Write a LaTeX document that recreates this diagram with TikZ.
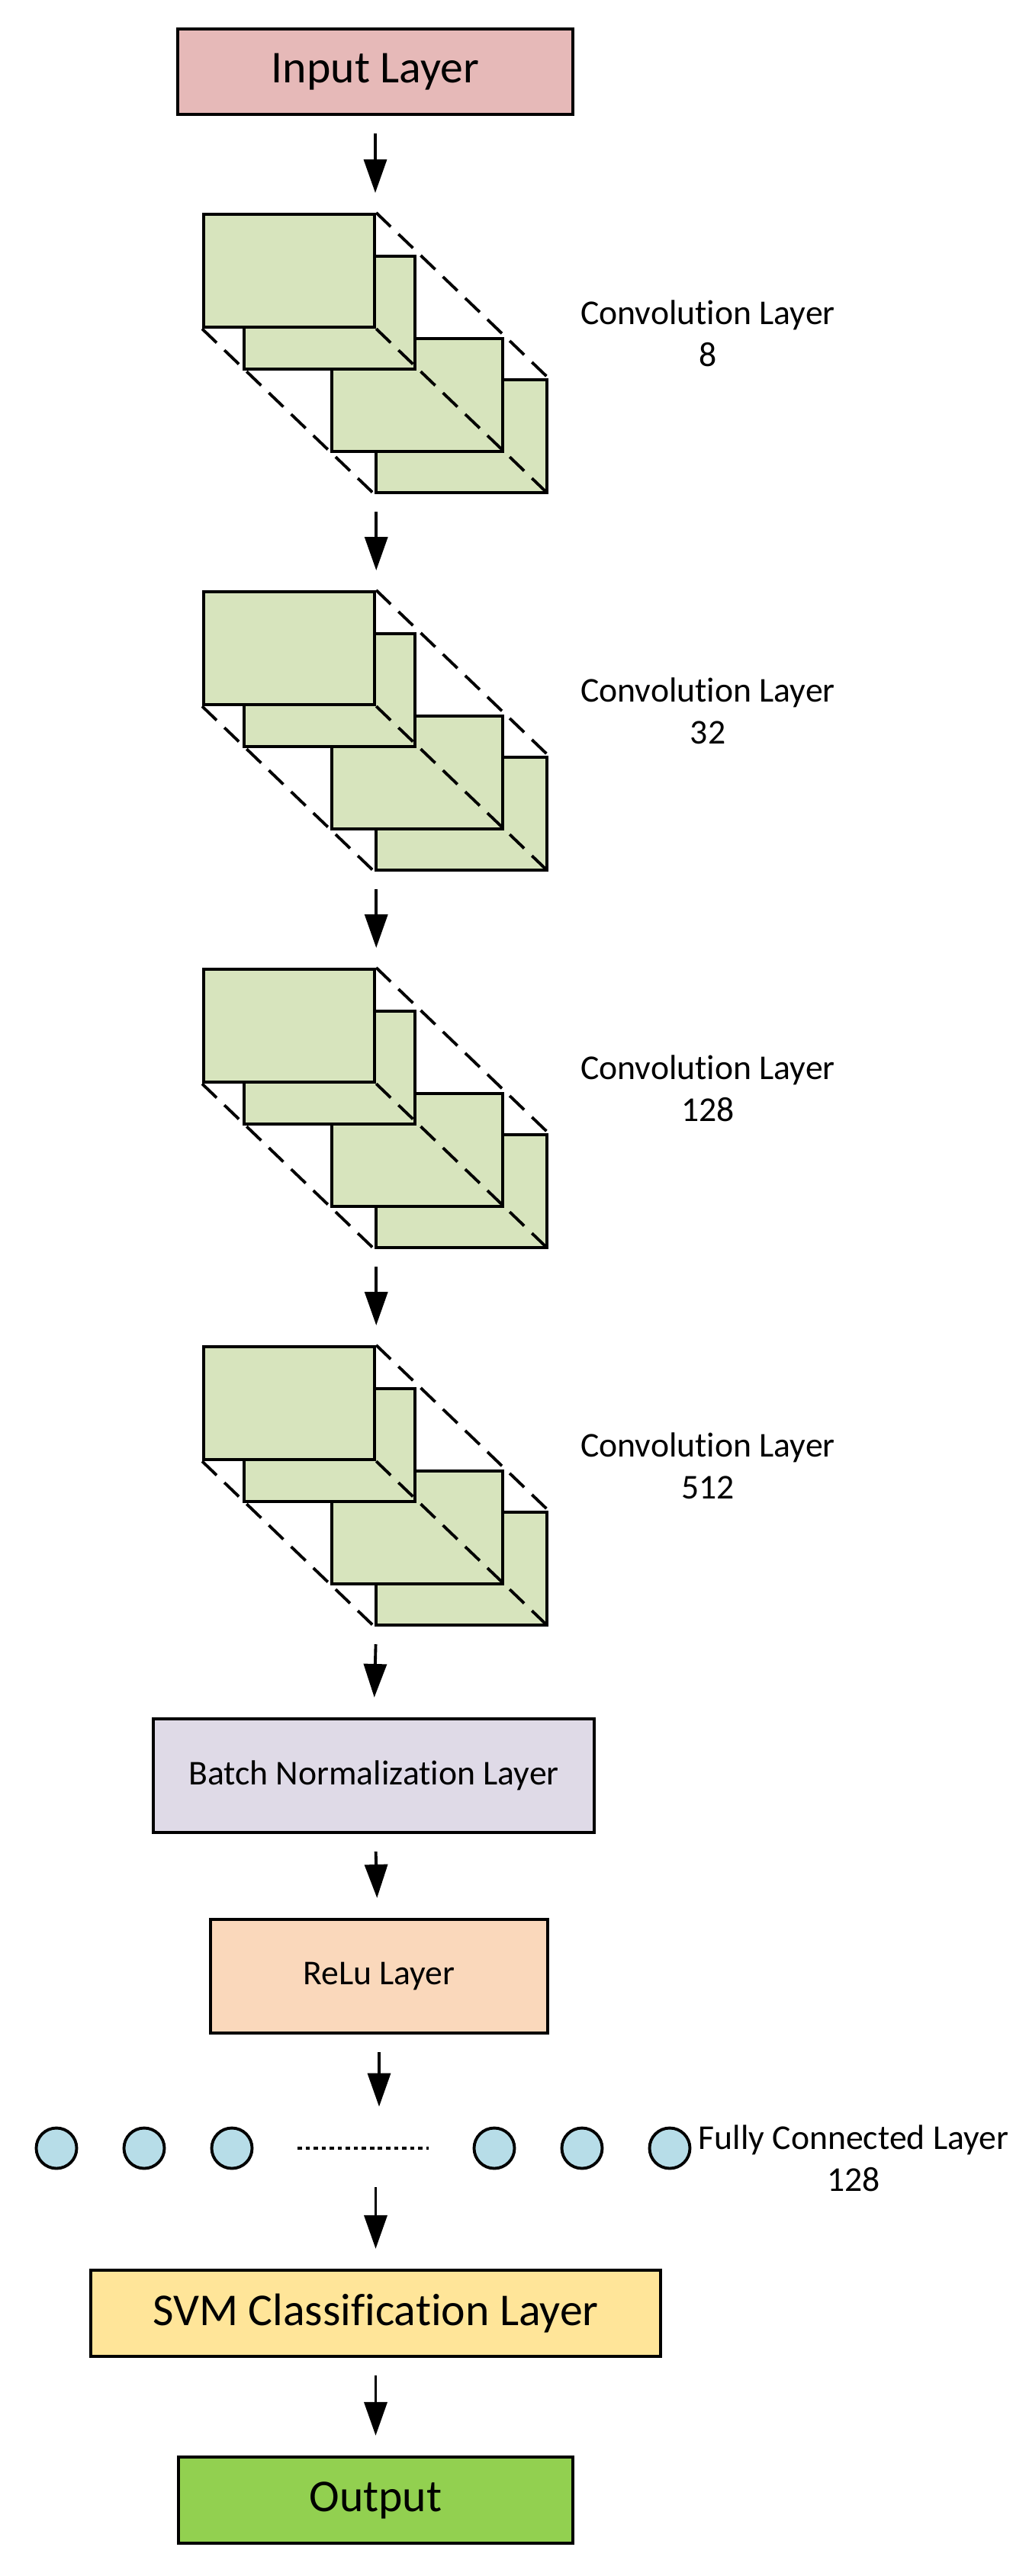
\documentclass[tikz,border=0pt]{standalone}
\usepackage{fontspec}
\setmainfont{Carlito}[Ligatures={NoCommon,NoRare,NoContextual}, Contextuals=NoAlternate]
\usetikzlibrary{arrows.meta, calc}

\definecolor{inputred}{HTML}{E6B9B8}
\definecolor{convgreen}{HTML}{D7E4BD}
\definecolor{batchlilac}{HTML}{DFDAE7}
\definecolor{reluorange}{HTML}{FAD8BB}
\definecolor{fcblue}{HTML}{B7DDE8}
\definecolor{svmyellow}{HTML}{FFE599}
\definecolor{outgreen}{HTML}{92D050}

\begin{document}
\begin{tikzpicture}[
		layerbox/.style={draw, line width=1.2pt, inner sep=0pt},
		bigtext/.style={font=\fontsize{17}{20}\selectfont},
		smalltext/.style={font=\fontsize{13}{15.6}\selectfont, align=center},
		fmap/.style={draw, line width=1.2pt, fill=convgreen, anchor=north west,
			minimum width=2.24cm, minimum height=1.48cm, inner sep=0pt},
		hidden/.style={line width=1.1pt, dash pattern=on 7.5pt off 4pt},
		neuron/.style={draw, circle, line width=1.1pt, fill=fcblue, minimum size=0.53cm, inner sep=0pt},
		flow/.style={line width=1.1pt, -{Triangle[length=12.5pt, width=8.5pt]},
			shorten <=0.23cm, shorten >=0.26cm} ]
	\useasboundingbox (0,0) rectangle (13.49,-33.78);

	\node[layerbox, bigtext, fill=inputred, minimum width=5.18cm, minimum height=1.12cm]
		(input) at (4.92,-0.94) {Input Layer};

	% four convolution blocks, back to front
	\foreach \y/\n [count=\i] in {2.79/8, 7.74/32, 12.69/128, 17.64/512} {
		\node[fmap] (conv\i-d) at (4.91,{-\y-2.17}) {};
		\node[fmap] (conv\i-c) at (4.33,{-\y-1.63}) {};
		\node[fmap] (conv\i-b) at (3.18,{-\y-0.55}) {};
		\node[fmap] (conv\i-a) at (2.65,-\y) {};
		\draw[hidden] (conv\i-a.north east) -- (conv\i-d.north east);
		\draw[hidden] (conv\i-a.south west) -- (conv\i-d.south west);
		\draw[hidden] (conv\i-a.south east) -- (conv\i-d.south east);
		\node[smalltext] (lab\i) at (9.28,{-\y-1.585}) {Convolution Layer\\ \n};
	}

	\node[layerbox, smalltext, fill=batchlilac, minimum width=5.78cm, minimum height=1.49cm]
		(batch) at (4.90,-23.285) {Batch Normalization Layer};
	\node[layerbox, smalltext, fill=reluorange, minimum width=4.42cm, minimum height=1.49cm]
		(relu) at (4.97,-25.915) {ReLu Layer};

	% fully connected layer
	\foreach \x [count=\i] in {0.74, 1.89, 3.04, 6.48, 7.63, 8.78}
		\node[neuron] (fc\i) at (\x,-28.17) {};
	\draw[line width=0.9pt, dash pattern=on 1.6pt off 1.4pt]
		($(fc3)!0.25!(fc4)$) -- ($(fc3)!0.75!(fc4)$);
	\node[smalltext] (fclab) at (11.19,-28.30) {Fully Connected Layer\\ 128};

	\node[layerbox, bigtext, fill=svmyellow, minimum width=7.47cm, minimum height=1.13cm]
		(svm) at (4.925,-30.335) {SVM Classification Layer};
	\node[layerbox, bigtext, fill=outgreen, minimum width=5.17cm, minimum height=1.13cm]
		(output) at (4.925,-32.785) {Output};

	% arrows
	\draw[flow] (input.south) -- (input.south |- conv1-a.north);
	\foreach \i/\j in {1/2, 2/3, 3/4}
		\draw[flow] (conv\i-a.north east |- conv\i-d.south) -- (conv\j-a.north east);
	\draw[flow] (conv4-a.north east |- conv4-d.south) -- (batch.north);
	\draw[flow] (batch) -- (relu);
	\draw[flow] (relu.south) -- (relu.south |- fc1.north);
	\draw[flow] (svm.north |- fc1.south) -- (svm.north);
	\draw[flow] (svm) -- (output);
\end{tikzpicture}
\end{document}
